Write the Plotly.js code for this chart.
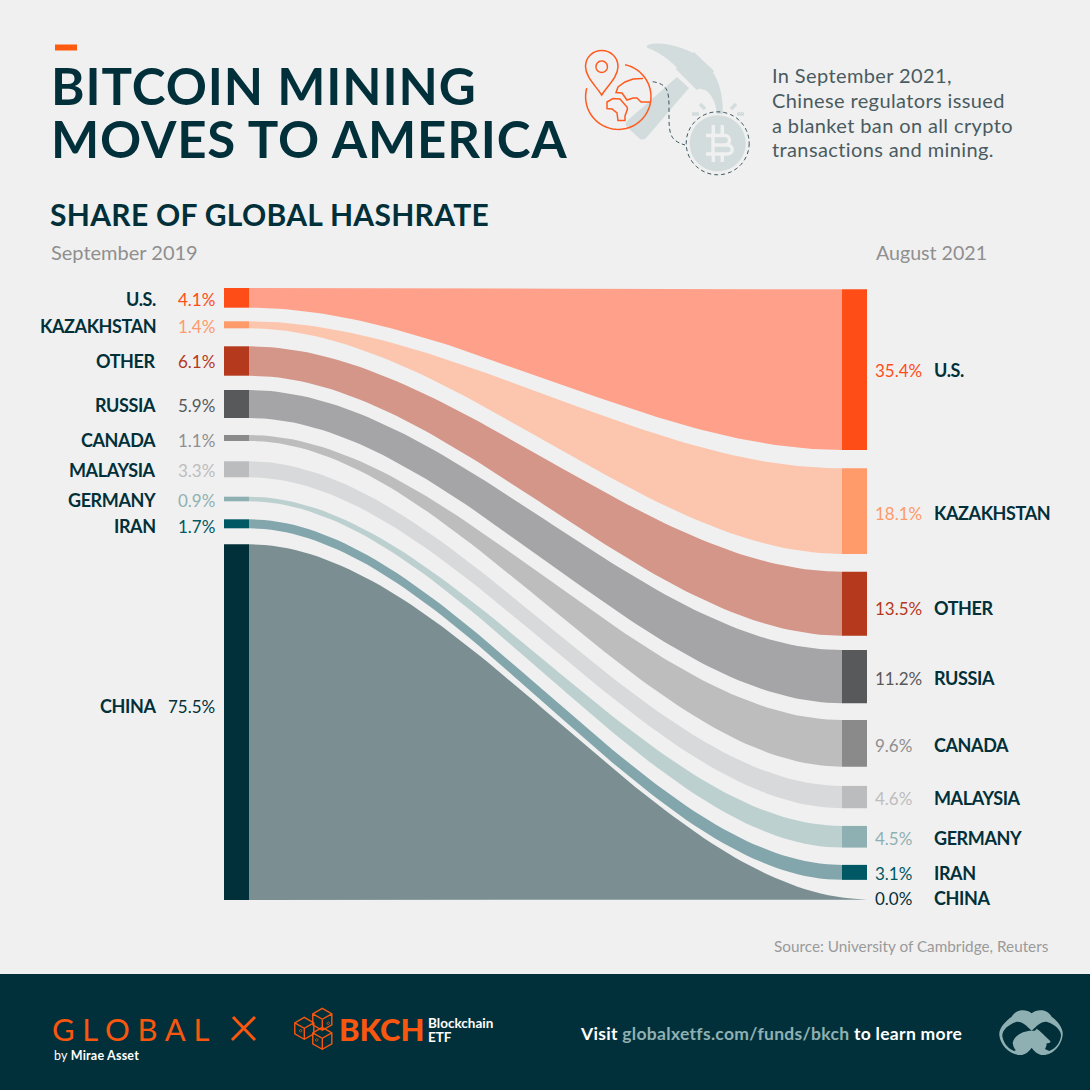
<!DOCTYPE html>
<html><head><meta charset="utf-8">
<script src="https://cdn.plot.ly/plotly-3.0.1.min.js"></script>
<style>html,body{margin:0;padding:0;background:#F0F0F0}#c{width:1090px;height:1090px}</style>
</head><body><div id="c"></div>
<script>
// ---------- data ----------
const countries   = ['U.S.','KAZAKHSTAN','OTHER','RUSSIA','CANADA','MALAYSIA','GERMANY','IRAN','CHINA'];
const labelsLeft  = ['4.1%','1.4%','6.1%','5.9%','1.1%','3.3%','0.9%','1.7%','75.5%'];
const labelsRight = ['35.4%','18.1%','13.5%','11.2%','9.6%','4.6%','4.5%','3.1%','0.0%'];
// band thickness as drawn in the picture (share points)
const sharesLeft  = [4.18,1.49,6.24,5.94,1.27,3.40,0.98,1.91,75.5];
const sharesRight = [34.1,18.2,13.6,11.3,9.9,4.73,4.6,3.18,0.1];
// spacing before each band
const gapsLeft  = [0,2.89,3.82,3.04,3.61,4.31,4.12,3.82,3.40];
const gapsRight = [0.28,3.89,3.76,3.04,3.55,4.10,3.76,3.67,4.10];
const nodeColors = ['#FF4D17','#FF9A6B','#B5391D','#58595B','#8A8A8A','#BBBCBE','#8FB0B2','#005864','#02303A'];
const bandColors = ['#FFA08A','#FCC5AE','#D49688','#A5A5A7','#BDBDBD','#D8D9DA','#BDD0D0','#82A6AB','#7B8F92'];
const labelColors= ['#FF4D17','#FF9A6B','#B5391D','#58595B','#8F8F8F','#BDBDBD','#8FB0B2','#005864','#02303A'];
const labelYLeft  = [298.5,325.5,360.5,404.5,439.5,469.5,499.5,525.5,705.5];
const labelYRight = [369.5,512.5,607.5,677.5,744.5,797.5,837.5,872.5,897.5];
const descLines = ['In September 2021,','Chinese regulators issued','a blanket ban on all crypto','transactions and mining.'];
const descY = [75,100,125,149];

// ---------- scales ----------
const PX = 4.71, X0 = 249, X1 = 842, NODE = 25, TOP = 288;
const xSpan = X1 - X0;
function stack(vals, gaps){let c=0;return vals.map((v,i)=>{c+=gaps[i];const t=c;c+=v;return t;});}
const topsL = stack(sharesLeft,gapsLeft), topsR = stack(sharesRight,gapsRight);

const traces = [];
countries.forEach((n,i)=>{
  const xEnd = i===countries.length-1 ? 1+NODE/xSpan : 1;
  const xs=[], ys=[], N=80;
  const edge=(y0,y1,rev)=>{
    for(let k=0;k<=N;k++){
      const t=(rev?N-k:k)/N;
      xs.push(t*xEnd);
      ys.push(y0+(y1-y0)*(3*t*t-2*t*t*t));
    }
  };
  edge(topsL[i],topsR[i],false);
  edge(topsL[i]+sharesLeft[i],topsR[i]+sharesRight[i],true);
  traces.push({type:'scatter',mode:'lines',x:xs,y:ys,fill:'toself',fillcolor:bandColors[i],
    line:{width:0,color:bandColors[i]},hoverinfo:'skip',showlegend:false,name:n});
});
traces.push({type:'bar',x:countries.map(()=>-NODE/2/xSpan),y:sharesLeft,base:topsL,width:NODE/xSpan,
  marker:{color:nodeColors,line:{width:0}},hoverinfo:'skip',showlegend:false});
traces.push({type:'bar',x:countries.map(()=>1+NODE/2/xSpan),y:sharesRight.map((v,i)=>i===8?0:v),base:topsR,width:NODE/xSpan,
  marker:{color:nodeColors,line:{width:0}},hoverinfo:'skip',showlegend:false});
// carrier for the page-pixel overlay axes
traces.push({type:'scatter',mode:'markers',x:[0],y:[0],xaxis:'x2',yaxis:'y2',marker:{size:1,opacity:0},hoverinfo:'skip',showlegend:false});

// ---------- text ----------
const DARK='#02303A', FONT='Lato';
function T(s,x,y,size,color,anchor,weight,sp){
  const t = sp ? `<span style="letter-spacing:${sp}px">${s}</span>` : s;
  return {text:t,x,y,xref:'x2',yref:'y2',showarrow:false,xanchor:anchor||'left',yanchor:'middle',
    font:{family:FONT,size,color,weight:weight||400},align:anchor||'left',borderpad:0,borderwidth:0};
}
const ann=[
  T('BITCOIN MINING',51,85,51,DARK,'left',700,0.9),
  T('MOVES TO AMERICA',51,138,51,DARK,'left',700,0.85),
  T('SHARE OF GLOBAL HASHRATE',50,214,30,DARK,'left',700,0.3),
  T('September 2019',51,252,20,'#8F8F8F','left',400),
  T('August 2021',876,252,19.6,'#8F8F8F','left',400),
  T('Source: University of Cambridge, Reuters',1049,946,15.3,'#9A9A9A','right',400),
  T('GLOBAL',52,1028.5,31,'#F9560F','left',400,7.7),
  T('by <b>Mirae Asset</b>',54,1055,12.5,'#FFFFFF','left',400,0.2),
  T('BKCH',339,1029,31,'#F9560F','left',900),
  T('Blockchain',428,1023,13.5,'#FFFFFF','left',700),
  T('ETF',428,1037,13.5,'#FFFFFF','left',700),
  T('Visit <span style="color:#8FB0B2">globalxetfs.com/funds/bkch</span> to learn more',580,1033,17.5,'#FFFFFF','left',700,0.3),
];
descLines.forEach((s,i)=>ann.push(T(s,772,descY[i],20,'#4A5B60','left',400,0.38)));
countries.forEach((c,i)=>{
  ann.push(T(c,156,labelYLeft[i],18,DARK,'right',700,-0.4));
  ann.push(T(labelsLeft[i],215,labelYLeft[i]+0.5,17,labelColors[i],'right',400));
  ann.push(T(labelsRight[i],875,labelYRight[i]+0.5,17,labelColors[i],'left',400));
  ann.push(T(c,934,labelYRight[i],18,DARK,'left',700,-0.4));
});

// ---------- decoration (page pixels) ----------
function S(path,fill,line,w,dash){
  return {type:'path',path,xref:'x2',yref:'y2',fillcolor:fill||'rgba(0,0,0,0)',layer:'below',
    line:{color:line||'rgba(0,0,0,0)',width:w||0,dash:dash||'solid'}};
}
function arc(cx,cy,r,a0,a1,close){
  let p='';const n=Math.max(24,Math.round(Math.abs(a1-a0)/6));
  for(let k=0;k<=n;k++){const a=(a0+(a1-a0)*k/n)*Math.PI/180;
    p+=(k?'L':'M')+(cx+r*Math.cos(a)).toFixed(2)+','+(cy+r*Math.sin(a)).toFixed(2);}
  return p+(close?'Z':'');
}
function poly(pts,close){return pts.map((q,i)=>(i?'L':'M')+q[0]+','+q[1]).join('')+(close?'Z':'');}
// small artwork sketched on a 3x grid with its own origin
const grid=(p,ox,oy)=>p.replace(/(-?[\d.]+),(-?[\d.]+)/g,(m,a,b)=>(ox+a/3).toFixed(2)+','+(oy+b/3).toFixed(2));
const ICON='#D3DCDD', OR='#FF5A1F', TEAL='#8FB0B2', FOOT='#02303A';
const hex=(cx,cy,r)=>{const d=r*0.866,h=r/2;
  return `M${cx},${cy-r}L${cx+d},${cy-h}L${cx+d},${cy+h}L${cx},${cy+r}L${cx-d},${cy+h}L${cx-d},${cy-h}Z`+
         `M${cx-d},${cy-h}L${cx},${cy}L${cx+d},${cy-h}M${cx},${cy}L${cx},${cy+r}`;};
const shapes=[
  S('M0,974L1090,974L1090,1090L0,1090Z',FOOT),
  S('M55,44.5L77,44.5L77,50.5L55,50.5Z','#FF5A0F'),
  // hammer
  S('M677,77L689,88L647,137C644,140 642,140 640,139L627,127C625,125 625,123 627,121Z',ICON),
  S('M648,45C660,41 680,46 695,54L712,71C720,82 723,97 723,114L717,114C716,104 712,94 705,90L697,88L678,69C668,58 658,52 648,48C646,47 646,46 648,45Z',ICON),
  S('M694,54L712,71L697,88L678,69Z',ICON,ICON,3),
  // bitcoin
  S(arc(717.7,143.3,28,0,360,true),ICON),
  S(arc(717.7,143.3,31.5,0,360,true),null,'#3A5660',1,'4px,3px'),
  S('M706,135.5L725,135.5C731,135.5 731,145 725,145L713,145M713,135.5L713,154M713,145L727,145C734,145 734,154 727,154L706,154M713.3,125L713.3,135M722.3,125L722.3,135M713.3,154L713.3,162M722.3,154L722.3,162','rgba(0,0,0,0)','#F0F0F0',3.4),
  S('M692,114L699,114M737,114L744,114M700,104L705,109M731,109L736,104',null,ICON,3.5),
  S('M652.7,81.7C668,84 669,92 669,108C669,132 668,140 685,145',null,'#3A5660',1,'4px,3px'),
  // globe and pin
  S(arc(618.3,96.7,32.7,-78,195),null,OR,1.5),
  S('M601.7,95C596,86 585.5,77 585.5,66.5C585.5,57 593,50.5 601.7,50.5C610.4,50.5 618,57 618,66.5C618,77 607.4,86 601.7,95Z',null,OR,1.5),
  S(arc(601.7,66.7,5.7,0,360,true),null,OR,1.5),
  S(poly([[643,78.5],[633,79],[625,82],[618,87],[616,92.5],[622,93],[627,100],[633,98],[637,98],[641,102],[650,102]]),null,OR,1.5),
  S(poly([[607,102],[613,98.5],[620,99],[627,107],[627.5,109],[625,116],[625,120.5],[618,120.5],[617,113],[612,109],[607,108.5]],true),null,OR,1.5),
  // footer X
  S('M233,1017L255,1040M255,1017L232,1040',null,'#F9560F',3),
  // BKCH cubes
  S(hex(322.3,1019.3,11),null,'#F9560F',1.4),
  S(hex(304.3,1028.3,11),null,'#F9560F',1.4),
  S(hex(322.3,1038.3,11),null,'#F9560F',1.4),
  S(arc(300.7,1030.7,1.2,0,360,true)+arc(328.3,1023.3,1.2,0,360,true)+arc(316.7,1040,1.2,0,360,true),null,'#F9560F',1),
  // mark
  S(grid('M125,40C140,28 170,25 185,50C205,65 220,85 218,105C215,135 190,165 160,165C145,165 133,155 125,143C117,155 105,165 90,165C60,165 30,135 28,105C26,85 45,65 65,50C80,25 110,28 125,40Z',990,1000),TEAL),
  S(grid('M125,92C105,72 90,62 78,66C55,74 36,90 37,108C40,128 52,145 72,153L125,130Z',990,1000),FOOT),
  S(grid('M125,92C145,72 160,62 172,66C195,74 214,90 213,108C210,128 198,145 178,153L125,130Z',990,1000),FOOT),
  S(grid('M68,128C75,105 100,92 125,92L135,92L140,86C150,92 165,108 180,122C185,128 175,130 170,130C170,145 160,155 150,160C140,155 130,148 125,140C118,150 108,158 95,160C78,155 70,145 68,128Z',990,1000),TEAL),
];

const layout={
  width:1090,height:1090,margin:{l:0,r:0,t:0,b:0,pad:0},
  paper_bgcolor:'#F0F0F0',plot_bgcolor:'rgba(0,0,0,0)',showlegend:false,hovermode:false,barmode:'overlay',
  xaxis:{range:[-X0/xSpan,(1090-X0)/xSpan],visible:false,fixedrange:true},
  yaxis:{range:[(1090-TOP)/PX,-TOP/PX],visible:false,fixedrange:true},
  xaxis2:{range:[0,1090],visible:false,overlaying:'x',anchor:'y2',fixedrange:true},
  yaxis2:{range:[1090,0],visible:false,overlaying:'y',anchor:'x2',fixedrange:true},
  annotations:ann,shapes
};
Plotly.newPlot('c',traces,layout,{displayModeBar:false,staticPlot:true});
</script></body></html>
